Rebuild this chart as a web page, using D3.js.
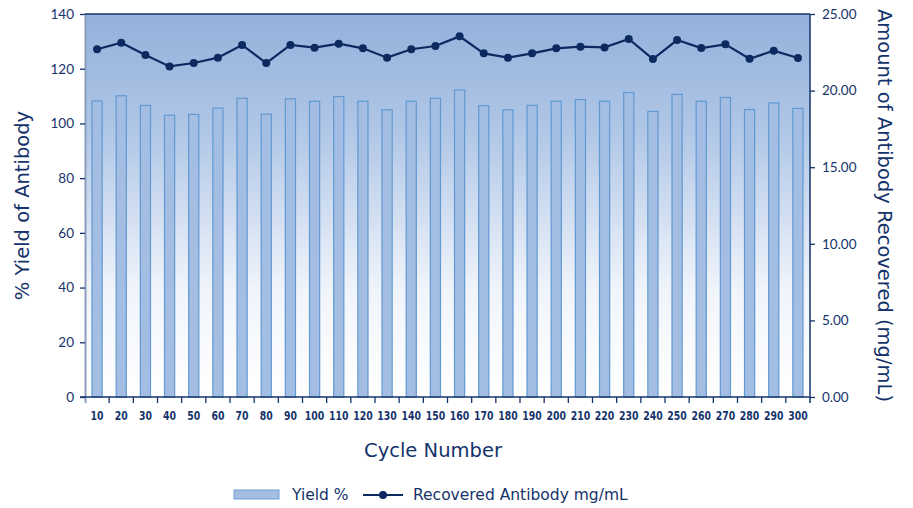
<!DOCTYPE html>
<html><head><meta charset="utf-8">
<script src="https://cdn.jsdelivr.net/npm/d3@7"></script>
<style>body{margin:0;background:#fff}svg{display:block}</style>
</head><body>
<svg id="c" width="913" height="508"></svg>
<script>
const cycles = [10,20,30,40,50,60,70,80,90,100,110,120,130,140,150,160,170,180,190,200,210,220,230,240,250,260,270,280,290,300];
const yieldPct = [108.2,110.1,106.6,103,103.3,105.6,109.2,103.4,109,108.1,109.8,108.1,105,108.1,109.2,112.2,106.5,105,106.6,108.1,108.7,108.1,111.3,104.4,110.6,108.1,109.5,105.1,107.5,105.5];
const recovered = [22.7,23.13,22.32,21.58,21.8,22.15,22.98,21.8,22.98,22.8,23.06,22.76,22.15,22.7,22.91,23.54,22.43,22.15,22.43,22.76,22.87,22.82,23.37,22.06,23.3,22.78,23.02,22.08,22.6,22.13];
const leftTicks = [0,20,40,60,80,100,120,140];
const rightTicks = [0,5,10,15,20,25];

const navy = "#15336b", lineC = "#0c2a60";
const svg = d3.select("#c");
const L = 85, R = 810, T = 14, B = 397;
const x = d3.scaleBand().domain(cycles).range([L, R]).paddingInner(0.58).paddingOuter(0.29);
const xb = d3.scaleBand().domain(cycles).range([L, R]);
const yL = d3.scaleLinear().domain([0,140]).range([B, T]);
const yR = d3.scaleLinear().domain([0,25]).range([B, T]);
const font = "'Lato','DejaVu Sans',sans-serif";
const tfont = "'DejaVu Sans',sans-serif";

const defs = svg.append("defs");
const g = defs.append("linearGradient").attr("id","bg").attr("x1",0).attr("y1",0).attr("x2",0).attr("y2",1);
g.append("stop").attr("offset","0%").attr("stop-color","#94b1db");
g.append("stop").attr("offset","30%").attr("stop-color","#afc6e6");
g.append("stop").attr("offset","72%").attr("stop-color","#f0f4fb");
g.append("stop").attr("offset","100%").attr("stop-color","#ffffff");
svg.append("rect").attr("x",L).attr("y",T).attr("width",R-L).attr("height",B-T).attr("fill","url(#bg)");

// left plot border (grey)
svg.append("line").attr("x1",L+0.5).attr("x2",L+0.5).attr("y1",T).attr("y2",B+6).attr("stroke","#8a9dbd").attr("stroke-width",2);
// top border
svg.append("line").attr("x1",L).attr("x2",R).attr("y1",T).attr("y2",T).attr("stroke",navy).attr("stroke-width",1.5);

// bars
svg.append("g").selectAll("rect").data(cycles).join("rect")
  .attr("x", d => x(d)).attr("width", x.bandwidth())
  .attr("y", (d,i) => yL(yieldPct[i])).attr("height", (d,i) => B - yL(yieldPct[i]))
  .attr("fill","#a4bee3").attr("stroke","#6199d2").attr("stroke-width",1.2);

// left axis
const ax = d3.axisLeft(yL).tickValues(leftTicks).tickSize(5).tickPadding(6).tickFormat(d3.format("d"));
const gl = svg.append("g").attr("transform",`translate(${L},0)`).call(ax);
gl.select(".domain").remove();
gl.selectAll("line").attr("stroke",navy).attr("stroke-width",1.3);
gl.selectAll("text").attr("fill",navy).attr("font-family",font).attr("font-size",13.5);

// right axis
const ar = d3.axisRight(yR).tickValues(rightTicks).tickSize(5).tickPadding(7).tickFormat(d3.format(".2f"));
const gr = svg.append("g").attr("transform",`translate(${R},0)`).call(ar);
gr.select(".domain").remove();
gr.selectAll("line").attr("stroke",navy).attr("stroke-width",1.3);
gr.selectAll("text").attr("fill",navy).attr("font-family",font).attr("font-size",13.5);
svg.append("line").attr("x1",R).attr("x2",R).attr("y1",T).attr("y2",B+6).attr("stroke",navy).attr("stroke-width",1.5);

// x axis
const gx = svg.append("g").attr("transform",`translate(0,${B})`)
  .call(d3.axisBottom(x).tickSize(0).tickPadding(14));
gx.select(".domain").remove();
gx.selectAll("text").attr("fill",navy).attr("font-family","'Liberation Sans Narrow','DejaVu Sans Condensed',sans-serif")
  .attr("font-weight","bold").attr("font-size",13).attr("transform","scale(0.8,1)");
svg.append("line").attr("x1",L-5).attr("x2",R).attr("y1",B).attr("y2",B).attr("stroke",navy).attr("stroke-width",1.5);
svg.append("g").selectAll("line").data(cycles.slice(1)).join("line")
  .attr("x1", d => xb(d)).attr("x2", d => xb(d)).attr("y1",B).attr("y2",B+6)
  .attr("stroke",navy).attr("stroke-width",1.3);

// line
const line = d3.line().x((d,i) => x(cycles[i]) + x.bandwidth()/2).y(d => yR(d));
svg.append("path").datum(recovered).attr("d",line).attr("fill","none").attr("stroke",lineC).attr("stroke-width",2.2);
svg.append("g").selectAll("circle").data(recovered).join("circle")
  .attr("cx",(d,i) => x(cycles[i]) + x.bandwidth()/2).attr("cy", d => yR(d)).attr("r",4).attr("fill",lineC);

// titles
svg.append("text").attr("transform",`translate(29,${(T+B)/2}) rotate(-90)`).attr("text-anchor","middle")
  .attr("fill",navy).attr("font-family",tfont).attr("font-size",19.5).text("% Yield of Antibody");
svg.append("text").attr("transform",`translate(878,${(T+B)/2}) rotate(90)`).attr("text-anchor","middle")
  .attr("fill",navy).attr("font-family",tfont).attr("font-size",19.5).text("Amount of Antibody Recovered (mg/mL)");
svg.append("text").attr("x",433).attr("y",457).attr("text-anchor","middle")
  .attr("fill",navy).attr("font-family",tfont).attr("font-size",19.5).text("Cycle Number");

// legend
const lg = svg.append("g");
lg.append("rect").attr("x",234).attr("y",490).attr("width",45).attr("height",9).attr("fill","#a4bee3").attr("stroke","#6f9fd3").attr("stroke-width",1);
lg.append("text").attr("x",292).attr("y",500).attr("fill",navy).attr("font-family",tfont).attr("font-size",15.5).text("Yield %");
lg.append("line").attr("x1",363).attr("x2",403).attr("y1",495).attr("y2",495).attr("stroke",lineC).attr("stroke-width",2.2);
lg.append("circle").attr("cx",383).attr("cy",495).attr("r",4).attr("fill",lineC);
lg.append("text").attr("x",413).attr("y",500).attr("fill",navy).attr("font-family",tfont).attr("font-size",15.5).text("Recovered Antibody mg/mL");
</script>
</body></html>
